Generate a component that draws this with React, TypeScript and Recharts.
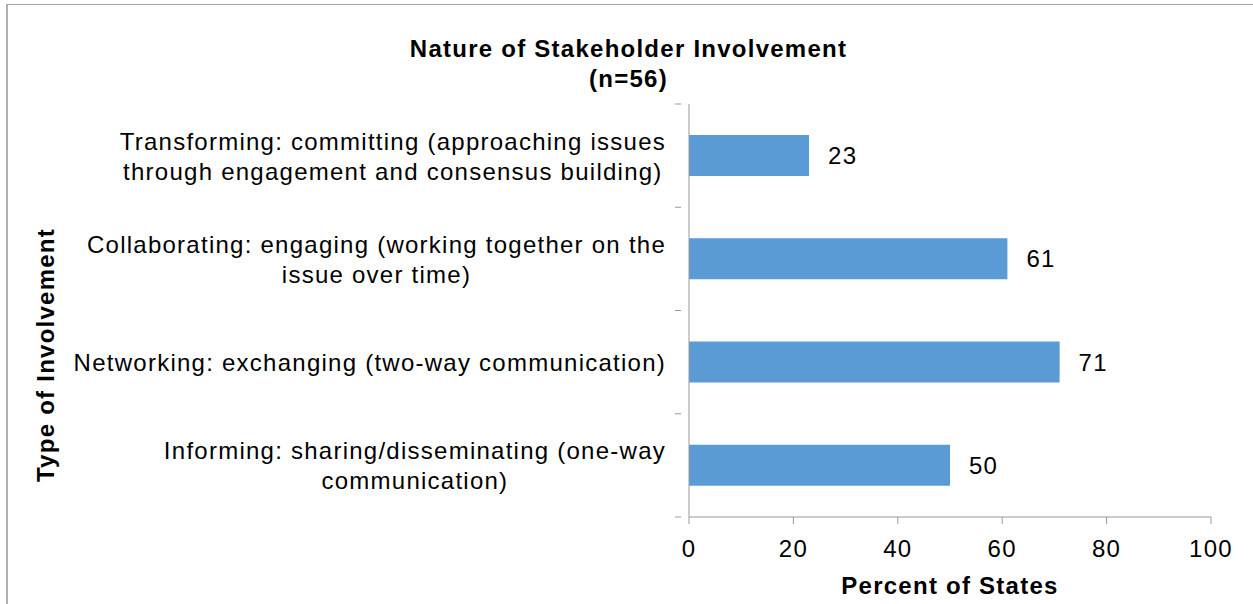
import { BarChart, Bar, XAxis, YAxis, LabelList } from 'recharts'

const categories = [
  'Transforming: committing (approaching issues\nthrough engagement and consensus building)',
  'Collaborating: engaging (working together on the\nissue over time)',
  'Networking: exchanging (two-way communication)',
  'Informing: sharing/disseminating (one-way\ncommunication)',
]
const percents = [23, 61, 71, 50]
const xTicks = [0, 20, 40, 60, 80, 100]

const FONT = '"Liberation Sans", Arial, sans-serif'
const FS = 24
const LS = 1.25
const AXIS = '#999999'
const BAND = (517 - 104) / categories.length

const data = categories.map((c, i) => ({ name: c, value: percents[i] }))

let ctx: CanvasRenderingContext2D | null = null
function textWidth(s: string) {
  if (!ctx) ctx = document.createElement('canvas').getContext('2d')
  if (!ctx) return s.length * 12
  ctx.font = `${FS}px ${FONT}`
  return ctx.measureText(s).width + s.length * LS
}

// multi-line labels: lines centred on each other, block right-aligned
const CategoryTick = ({ x, y, payload, index }: any) => {
  const lines: string[] = String(payload.value).split('\n')
  const lh = 30
  const start = y - ((lines.length - 1) * lh) / 2
  const right = x - 15
  const widest = Math.max(...lines.map(textWidth))
  const cx = right - widest / 2
  return (
    <g>
      <line x1={x - 6} x2={x} y1={y - BAND / 2} y2={y - BAND / 2} stroke={AXIS} />
      {index === categories.length - 1 && (
        <line x1={x - 6} x2={x} y1={y + BAND / 2} y2={y + BAND / 2} stroke={AXIS} />
      )}
      <text
        x={cx}
        y={start}
        textAnchor="middle"
        dominantBaseline="central"
        fontSize={FS}
        letterSpacing={LS}
        fill="#000"
        fontFamily={FONT}
      >
        {lines.map((l, i) => (
          <tspan key={i} x={cx} y={start + i * lh}>
            {l}
          </tspan>
        ))}
      </text>
    </g>
  )
}

const ValueTick = ({ x, y, payload }: any) => (
  <text x={x} y={y + 9} textAnchor="middle" dominantBaseline="central" fontSize={FS} letterSpacing={LS} fill="#000" fontFamily={FONT}>
    {payload.value}
  </text>
)

export default function App() {
  return (
    <div style={{ position: 'absolute', left: 0, top: 0, width: 1253, height: 604, background: '#fff', overflow: 'hidden', fontFamily: FONT }}>
      {/* outer frame */}
      <div style={{ position: 'absolute', left: 6, top: 4, width: 1300, height: 700, borderLeft: '2px solid #b0b0b0', borderTop: '1px solid #a0a0a0' }} />

      <div style={{ position: 'absolute', left: 0, width: 1257, top: 34, textAlign: 'center', fontWeight: 'bold', fontSize: FS, letterSpacing: LS, lineHeight: '30px', color: '#000' }}>
        Nature of Stakeholder Involvement
        <br />
        (n=56)
      </div>

      <div style={{ position: 'absolute', left: 46, top: 355, transform: 'translate(-50%, -50%) rotate(-90deg)', whiteSpace: 'nowrap', fontWeight: 'bold', fontSize: FS, letterSpacing: LS, color: '#000' }}>
        Type of Involvement
      </div>

      <div style={{ position: 'absolute', left: 689, width: 522, top: 572, textAlign: 'center', fontWeight: 'bold', fontSize: FS, letterSpacing: LS, lineHeight: '28px', color: '#000' }}>
        Percent of States
      </div>

      <BarChart
        width={1253}
        height={604}
        data={data}
        layout="vertical"
        margin={{ top: 104, right: 42, left: 0, bottom: 0 }}
        style={{ position: 'absolute', left: 0, top: 0 }}
      >
        <XAxis
          type="number"
          domain={[0, 100]}
          ticks={xTicks}
          interval={0}
          height={87}
          stroke={AXIS}
          tickSize={7}
          tickMargin={15}
          tick={<ValueTick />}
        />
        <YAxis
          type="category"
          dataKey="name"
          width={689}
          stroke={AXIS}
          tickLine={false}
          interval={0}
          tick={<CategoryTick />}
        />
        <Bar dataKey="value" fill="#5B9BD5" barSize={41} isAnimationActive={false}>
          <LabelList dataKey="value" position="right" offset={19} fontSize={FS} letterSpacing={LS} fill="#000" fontFamily={FONT} />
        </Bar>
      </BarChart>
    </div>
  )
}
